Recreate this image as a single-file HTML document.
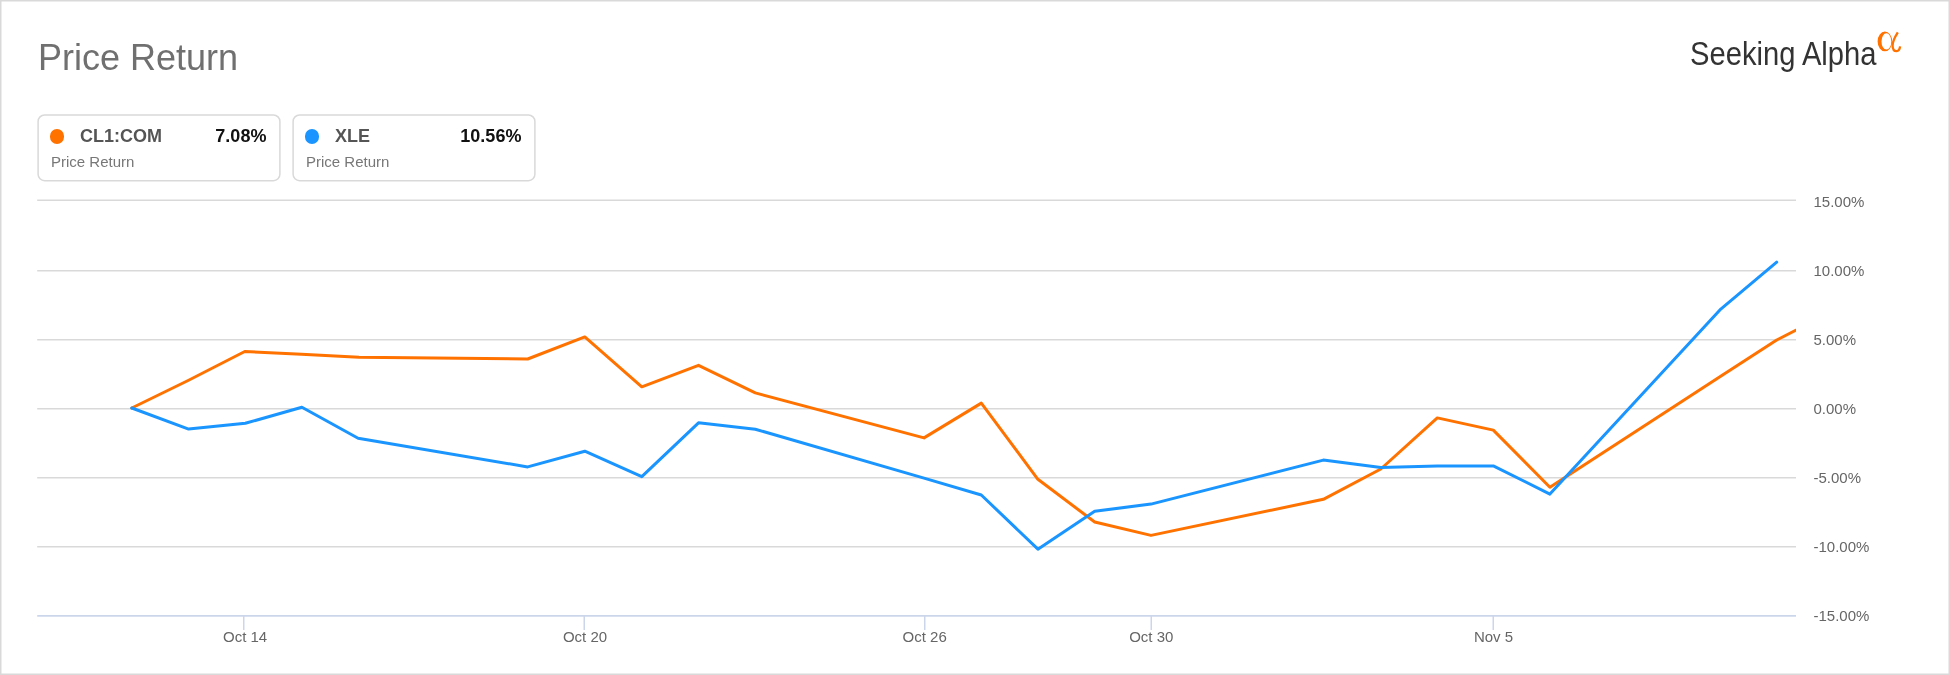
<!DOCTYPE html>
<html><head><meta charset="utf-8">
<style>
html,body{margin:0;padding:0;background:#fff;}
body{width:1950px;height:675px;overflow:hidden;position:relative;will-change:transform;font-family:"Liberation Sans",sans-serif;}
.title{position:absolute;left:38px;top:38.3px;font-size:36px;line-height:40px;color:#707070;white-space:nowrap;}
.lg{position:absolute;top:114px;width:242px;height:67px;box-sizing:border-box;border:1px solid transparent;}
.dot{position:absolute;left:10.5px;top:14.2px;width:14.4px;height:14.4px;border-radius:50%;}
.nm{position:absolute;left:41px;top:10px;font-size:18px;line-height:22px;font-weight:bold;color:#555;white-space:nowrap;}
.pc{position:absolute;right:12.6px;top:10px;font-size:18px;line-height:22px;font-weight:bold;color:#111;white-space:nowrap;}
.sub{position:absolute;left:12px;top:37.7px;font-size:15px;line-height:18px;color:#777;white-space:nowrap;}
svg{position:absolute;left:0;top:0;}
.ax{font-family:"Liberation Sans",sans-serif;font-size:15px;fill:#666;}
</style></head><body>
<div class="title">Price Return</div>
<div class="lg" style="left:38px"><div class="dot" style="background:#ff7200"></div><div class="nm">CL1:COM</div><div class="pc">7.08%</div><div class="sub">Price Return</div></div>
<div class="lg" style="left:293px"><div class="dot" style="background:#1a95ff"></div><div class="nm">XLE</div><div class="pc">10.56%</div><div class="sub">Price Return</div></div>
<svg width="1950" height="675" viewBox="0 0 1950 675">
<rect x="0.75" y="0.75" width="1948.5" height="673.5" fill="none" stroke="#d9d9d9" stroke-width="1.5"/>
<rect x="38.1" y="115.0" width="241.8" height="65.7" rx="6.5" fill="none" stroke="#d9d9d9" stroke-width="1.5"/>
<rect x="293.1" y="115.0" width="241.8" height="65.7" rx="6.5" fill="none" stroke="#d9d9d9" stroke-width="1.5"/>
<defs><clipPath id="pc"><rect x="37.2" y="150" width="1758.8" height="470"/></clipPath></defs>
<line x1="37.2" x2="1796.0" y1="200.3" y2="200.3" stroke="#d9d9d9" stroke-width="1.4"/>
<line x1="37.2" x2="1796.0" y1="270.7" y2="270.7" stroke="#d9d9d9" stroke-width="1.4"/>
<line x1="37.2" x2="1796.0" y1="339.7" y2="339.7" stroke="#d9d9d9" stroke-width="1.4"/>
<line x1="37.2" x2="1796.0" y1="408.7" y2="408.7" stroke="#d9d9d9" stroke-width="1.4"/>
<line x1="37.2" x2="1796.0" y1="477.7" y2="477.7" stroke="#d9d9d9" stroke-width="1.4"/>
<line x1="37.2" x2="1796.0" y1="546.7" y2="546.7" stroke="#d9d9d9" stroke-width="1.4"/>
<line x1="37.2" x2="1796.0" y1="615.9" y2="615.9" stroke="#ccd6eb" stroke-width="1.6"/>
<line x1="243.75" x2="243.75" y1="615.75" y2="630" stroke="#ccd6eb" stroke-width="1.5"/>
<text x="245.1" y="641.7" text-anchor="middle" class="ax">Oct 14</text>
<line x1="584.25" x2="584.25" y1="615.75" y2="630" stroke="#ccd6eb" stroke-width="1.5"/>
<text x="585.0" y="641.7" text-anchor="middle" class="ax">Oct 20</text>
<line x1="924.75" x2="924.75" y1="615.75" y2="630" stroke="#ccd6eb" stroke-width="1.5"/>
<text x="924.7" y="641.7" text-anchor="middle" class="ax">Oct 26</text>
<line x1="1151.25" x2="1151.25" y1="615.75" y2="630" stroke="#ccd6eb" stroke-width="1.5"/>
<text x="1151.3" y="641.7" text-anchor="middle" class="ax">Oct 30</text>
<line x1="1493.25" x2="1493.25" y1="615.75" y2="630" stroke="#ccd6eb" stroke-width="1.5"/>
<text x="1493.5" y="641.7" text-anchor="middle" class="ax">Nov 5</text>
<text x="1813.5" y="206.90" class="ax">15.00%</text>
<text x="1813.5" y="275.90" class="ax">10.00%</text>
<text x="1813.5" y="344.90" class="ax">5.00%</text>
<text x="1813.5" y="413.90" class="ax">0.00%</text>
<text x="1813.5" y="482.90" class="ax">-5.00%</text>
<text x="1813.5" y="551.90" class="ax">-10.00%</text>
<text x="1813.5" y="620.90" class="ax">-15.00%</text>
<g clip-path="url(#pc)" fill="none" stroke-width="3" stroke-linejoin="round" stroke-linecap="round">
<path d="M 131.8 408.0 L 188.1 380.5 L 244.8 351.5 L 301.4 354.3 L 358.9 357.3 L 527.7 359.0 L 584.8 336.9 L 641.8 386.8 L 698.5 365.3 L 755.3 392.9 L 924.0 437.9 L 981.3 403.1 L 1037.9 479.3 L 1094.7 522.0 L 1151.0 535.4 L 1323.3 499.3 L 1380.8 469.0 L 1437.3 417.9 L 1493.3 430.1 L 1549.9 487.2 L 1719.9 376.7 L 1776.7 340.0 L 1832.5 311.5" stroke="#ff7200"/>
<path d="M 131.8 408.0 L 188.6 429.1 L 245.3 423.3 L 301.9 407.2 L 358.1 438.2 L 527.7 466.9 L 584.8 451.2 L 641.8 476.7 L 698.5 422.8 L 755.3 429.2 L 924.0 478.1 L 981.3 495.0 L 1037.9 549.2 L 1094.7 511.3 L 1151.0 504.1 L 1323.3 460.1 L 1380.8 467.4 L 1437.3 465.9 L 1493.3 465.9 L 1549.9 494.1 L 1719.9 309.9 L 1776.7 262.1" stroke="#1a95ff"/>
</g>
<text x="1690" y="65.1" font-family="Liberation Sans" font-size="32.5" fill="#333" textLength="186.5" lengthAdjust="spacingAndGlyphs">Seeking Alpha</text>
<path fill-rule="evenodd" fill="#ff7200" d="M1884.9 31.6 A7.3 9.85 0 1 0 1884.9 51.3 A7.3 9.85 0 1 0 1884.9 31.6 Z M1886.4 33.3 A4.9 8.1 0 1 0 1886.4 49.5 A4.9 8.1 0 1 0 1886.4 33.3 Z"/>
<path d="M1897.8 32.3 C1894.9 36.9 1892.6 40.6 1892.6 45.4 C1892.6 49.6 1894.5 51.1 1896.6 51.1 C1898.6 51.1 1899.8 49.0 1900.1 46.4" fill="none" stroke="#ff7200" stroke-width="2.3"/>
</svg>
</body></html>
